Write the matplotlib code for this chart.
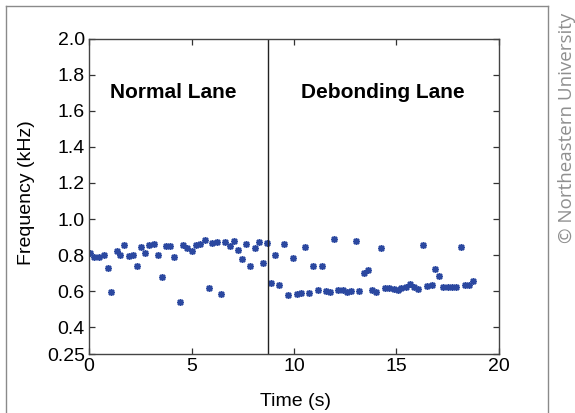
import matplotlib
matplotlib.use("Agg")
import matplotlib.pyplot as plt
from matplotlib.lines import Line2D

# Dominant frequency over time for the two lanes
normal_time = [0.05, 0.26, 0.49, 0.73, 0.91, 1.09, 1.35, 1.53, 1.71, 1.93,
               2.15, 2.33, 2.55, 2.75, 2.94, 3.19, 3.38, 3.56, 3.77, 3.97,
               4.16, 4.42, 4.59, 4.80, 5.02, 5.22, 5.41, 5.64, 5.84, 6.02,
               6.26, 6.44, 6.63, 6.86, 7.06, 7.25, 7.46, 7.67, 7.87, 8.08,
               8.28, 8.47, 8.70]
normal_freq = [0.810, 0.791, 0.788, 0.800, 0.730, 0.595, 0.822, 0.800, 0.854, 0.795,
               0.800, 0.741, 0.846, 0.810, 0.856, 0.860, 0.799, 0.677, 0.849, 0.849,
               0.789, 0.538, 0.854, 0.837, 0.824, 0.856, 0.863, 0.882, 0.616, 0.865,
               0.874, 0.586, 0.874, 0.852, 0.876, 0.826, 0.778, 0.860, 0.741, 0.841,
               0.872, 0.758, 0.865]

debond_time = [8.88, 9.09, 9.28, 9.51, 9.72, 9.94, 10.13, 10.33, 10.55, 10.75,
               10.93, 11.17, 11.35, 11.56, 11.78, 11.97, 12.16, 12.37, 12.60, 12.78,
               13.01, 13.19, 13.40, 13.63, 13.80, 14.00, 14.24, 14.44, 14.64, 14.86,
               15.05, 15.23, 15.45, 15.66, 15.85, 16.07, 16.28, 16.47, 16.72, 16.88,
               17.09, 17.28, 17.50, 17.71, 17.90, 18.13, 18.34, 18.55, 18.75]
debond_freq = [0.647, 0.800, 0.634, 0.860, 0.580, 0.782, 0.584, 0.591, 0.843, 0.591,
               0.741, 0.606, 0.741, 0.601, 0.595, 0.887, 0.606, 0.604, 0.597, 0.601,
               0.880, 0.601, 0.702, 0.717, 0.606, 0.595, 0.837, 0.616, 0.616, 0.612,
               0.606, 0.616, 0.621, 0.638, 0.625, 0.610, 0.856, 0.628, 0.634, 0.721,
               0.684, 0.625, 0.625, 0.625, 0.625, 0.843, 0.634, 0.634, 0.656]

boundary_time = 8.72

x_ticks = [0, 5, 10, 15, 20]
y_ticks = [0.25, 0.4, 0.6, 0.8, 1.0, 1.2, 1.4, 1.6, 1.8, 2.0]
y_tick_labels = ["0.25", "0.4", "0.6", "0.8", "1.0", "1.2", "1.4", "1.6", "1.8", "2.0"]

plt.rcParams["font.family"] = ["Liberation Sans", "DejaVu Sans"]

fig = plt.figure(figsize=(5.75, 4.13), dpi=100)
ax = fig.add_axes([0.1548, 0.1421, 0.7130, 0.7642])

marker_style = dict(linestyle="none", marker=(8, 2, 0), markersize=5,
                    markeredgewidth=1.1, color="#2b48a0")
ax.plot(normal_time, normal_freq, **marker_style)
ax.plot(debond_time, debond_freq, **marker_style)

ax.axvline(boundary_time, color="#222222", linewidth=1.0)

ax.set_xlim(0, 20)
ax.set_ylim(0.25, 2.0)
ax.set_xticks(x_ticks)
ax.set_xticklabels([str(v) for v in x_ticks])
ax.set_yticks(y_ticks)
ax.set_yticklabels(y_tick_labels)

ax.tick_params(direction="in", length=4, width=0.9, colors="#333333",
               labelcolor="black", labelsize=14, top=True, right=True, pad=3)
for spine in ax.spines.values():
    spine.set_color("#444444")
    spine.set_linewidth(1.0)

ax.text(4.1, 1.704, "Normal Lane", fontsize=15, fontweight="bold",
        ha="center", va="center")
ax.text(14.34, 1.704, "Debonding Lane", fontsize=15, fontweight="bold",
        ha="center", va="center")

fig.text(296 / 575, 1 - 401 / 413, "Time (s)", fontsize=14,
         ha="center", va="center")
fig.text(27 / 575, 1 - 193 / 413, "Frequency (kHz)", fontsize=14,
         ha="center", va="center", rotation=90)

# Outer frame around the panel (open at the bottom edge)
frame_color = "#8a8a8a"
fx0, fx1 = 6 / 575, 548 / 575
fy_top = 1 - 5.5 / 413
for xs, ys in [([fx0, fx0], [0, fy_top]), ([fx1, fx1], [0, fy_top]),
               ([fx0, fx1], [fy_top, fy_top])]:
    fig.add_artist(Line2D(xs, ys, transform=fig.transFigure,
                          color=frame_color, linewidth=1.0))

fig.text(567 / 575, 1 - 243 / 413, "\u00a9 Northeastern University",
         fontsize=13.5, color="#8f8f8f", rotation=90,
         ha="center", va="bottom", family=["Open Sans", "DejaVu Sans"])

fig.savefig("out.png", dpi=100)
